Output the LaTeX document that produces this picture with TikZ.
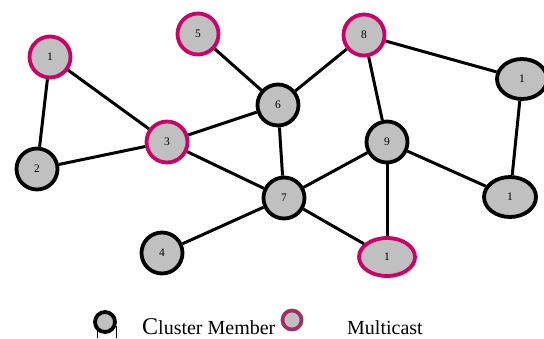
\documentclass[tikz,border=0pt]{standalone}
\usepackage{fontspec}
\setmainfont{Liberation Serif}
\usetikzlibrary{shapes.geometric}
\definecolor{mcpink}{RGB}{204,0,102}
\definecolor{lgpink}{RGB}{160,48,100}
\definecolor{nodegray}{RGB}{192,192,192}
\tikzset{
  mem/.style={circle, draw=black, fill=nodegray, line width=3.8pt, minimum size=41pt, inner sep=0pt, font=\fontsize{11.5}{11.5}\selectfont},
  mcast/.style={mem, draw=mcpink},
  memell/.style={ellipse, draw=black, fill=nodegray, line width=3.8pt, inner sep=0pt, font=\fontsize{11.5}{11.5}\selectfont},
  mcell/.style={memell, draw=mcpink},
  edge/.style={line width=3pt, black},
  legtext/.style={inner sep=0pt, anchor=base west, font=\fontsize{20}{20}\selectfont}
}
\begin{document}
\begin{tikzpicture}[x=1pt,y=-1pt]
\useasboundingbox (0,0) rectangle (544,338);
% nodes
\node[mcast] (n1) at (50,57) {1};
\node[mem] (n2) at (37,169) {2};
\node[mcast] (n3) at (167,142) {3};
\node[mem] (n4) at (162,253) {4};
\node[mcast] (n5) at (198,34) {5};
\node[mem] (n6) at (278,105) {6};
\node[mem] (n7) at (284,198) {7};
\node[mcast] (n8) at (364,35) {8};
\node[mem] (n9) at (387,142) {9};
\node[memell, minimum width=50pt, minimum height=40pt] (n10) at (522,79) {1};
\node[memell, minimum width=52pt, minimum height=40pt] (n11) at (510,197) {1};
\node[mcell, minimum width=56pt, minimum height=38pt] (n12) at (387,257) {1};
% edges
\draw[edge] (n1) -- (n2);
\draw[edge] (n1) -- (n3);
\draw[edge] (n2) -- (n3);
\draw[edge] (n3) -- (n6);
\draw[edge] (n3) -- (n7);
\draw[edge] (n5) -- (n6);
\draw[edge] (n6) -- (n7);
\draw[edge] (n6) -- (n8);
\draw[edge] (n8) -- (n9);
\draw[edge] (n8) -- (n10);
\draw[edge] (n10) -- (n11);
\draw[edge] (n9) -- (n7);
\draw[edge] (n9) -- (n11);
\draw[edge] (n9) -- (n12);
\draw[edge] (n7) -- (n12);
\draw[edge] (n7) -- (n4);
% legend
\coordinate (lh1) at (97,338);
\coordinate (lh2) at (116,338);
\draw[line width=1pt] (lh1) -- (97,326);
\draw[line width=1pt] (lh2) -- (116,326);
\node[circle, draw=black, fill=nodegray, line width=3.8pt, minimum size=20pt, inner sep=0pt] (lm) at (105,322) {};
\node[legtext] (lmt) at (142,334.5) {{\fontsize{24}{24}\selectfont C}luster Member};
\node[circle, draw=lgpink, fill=nodegray, line width=3.8pt, minimum size=19pt, inner sep=0pt] (lc) at (292,320) {};
\node[legtext] (lct) at (347,334.5) {Multicast};
\end{tikzpicture}
\end{document}
